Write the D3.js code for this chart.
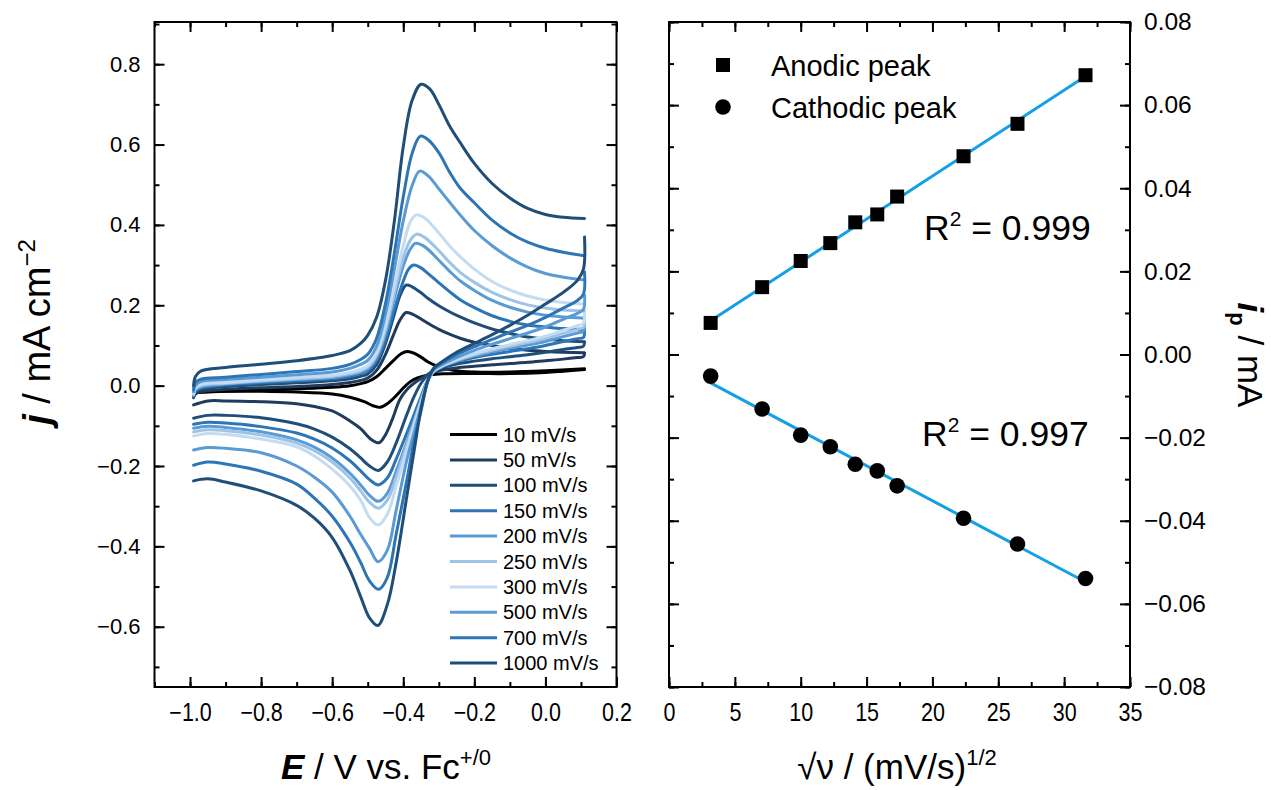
<!DOCTYPE html>
<html>
<head>
<meta charset="utf-8">
<script src="https://cdn.jsdelivr.net/npm/d3@7"></script>
<style>
  body { margin: 0; background: #fff; }
  svg { display: block; }
  text { font-family: "Liberation Sans", Arial, sans-serif; fill: #000; }
</style>
</head>
<body>
<svg id="chart" width="1271" height="790"></svg>
<script>
// ---- Cyclic voltammograms: [E (V vs Fc+/0), j (mA cm^-2)] ----
const scanRates = [10, 50, 100, 150, 200, 250, 300, 500, 700, 1000];
const scanLabels = ["10 mV/s", "50 mV/s", "100 mV/s", "150 mV/s", "200 mV/s",
                    "250 mV/s", "300 mV/s", "500 mV/s", "700 mV/s", "1000 mV/s"];
const scanColors = ["#000000", "#1f3b5e", "#1f4e79", "#2e75b6", "#5b9bd5",
                    "#9dc3e6", "#c5dcf0", "#5b9bd5", "#2e75b6", "#1f4e79"];

const fwd10 = [[-0.99,-0.018],[-0.9,-0.014],[-0.8,-0.011],[-0.7,-0.008],[-0.6,-0.004],[-0.55,0.0],[-0.52,0.005],[-0.5,0.01],[-0.475,0.022],[-0.45,0.043],[-0.425,0.065],[-0.405,0.08],[-0.388,0.085],[-0.37,0.081],[-0.35,0.071],[-0.33,0.059],[-0.3,0.047],[-0.27,0.04],[-0.24,0.036],[-0.2,0.034],[-0.1,0.034],[0.0,0.037],[0.11,0.042]];
const rev10 = [[0.11,0.04],[0.05,0.036],[0.0,0.033],[-0.1,0.03],[-0.2,0.03],[-0.3,0.029],[-0.33,0.026],[-0.36,0.019],[-0.38,0.01],[-0.4,-0.006],[-0.42,-0.025],[-0.445,-0.045],[-0.465,-0.054],[-0.485,-0.05],[-0.51,-0.04],[-0.55,-0.029],[-0.6,-0.021],[-0.7,-0.016],[-0.8,-0.014],[-0.9,-0.014],[-0.99,-0.016]];

const fwd50 = [[-0.99,-0.03],[-0.985,-0.021],[-0.97,-0.015],[-0.9,-0.009],[-0.8,-0.005],[-0.7,-0.002],[-0.6,0.003],[-0.55,0.008],[-0.52,0.013],[-0.5,0.019],[-0.475,0.038],[-0.45,0.078],[-0.425,0.132],[-0.41,0.162],[-0.392,0.182],[-0.375,0.178],[-0.35,0.166],[-0.33,0.155],[-0.3,0.14],[-0.27,0.128],[-0.24,0.118],[-0.2,0.108],[-0.15,0.1],[-0.1,0.093],[-0.05,0.088],[0.0,0.085],[0.05,0.083],[0.11,0.082]];
const rev50 = [[0.11,0.08],[0.107,0.072],[0.09,0.07],[0.05,0.066],[0.0,0.062],[-0.05,0.058],[-0.1,0.055],[-0.15,0.052],[-0.2,0.048],[-0.25,0.044],[-0.3,0.037],[-0.33,0.028],[-0.36,0.012],[-0.39,-0.01],[-0.41,-0.035],[-0.43,-0.082],[-0.45,-0.122],[-0.468,-0.142],[-0.49,-0.134],[-0.52,-0.107],[-0.55,-0.088],[-0.6,-0.063],[-0.65,-0.052],[-0.7,-0.045],[-0.8,-0.04],[-0.9,-0.038],[-0.95,-0.038],[-0.99,-0.048]];

const fwd100 = [[-0.99,-0.028],[-0.985,-0.017],[-0.97,-0.01],[-0.9,-0.002],[-0.8,0.003],[-0.7,0.007],[-0.6,0.012],[-0.55,0.017],[-0.52,0.023],[-0.5,0.029],[-0.475,0.052],[-0.45,0.105],[-0.425,0.178],[-0.41,0.222],[-0.392,0.25],[-0.375,0.246],[-0.35,0.231],[-0.33,0.217],[-0.3,0.199],[-0.27,0.184],[-0.24,0.171],[-0.2,0.156],[-0.15,0.141],[-0.1,0.13],[-0.05,0.121],[0.0,0.116],[0.05,0.112],[0.11,0.109]];
const rev100 = [[0.11,0.108],[0.107,0.098],[0.09,0.095],[0.05,0.09],[0.0,0.083],[-0.05,0.077],[-0.1,0.072],[-0.15,0.067],[-0.2,0.061],[-0.25,0.054],[-0.29,0.045],[-0.315,0.037],[-0.33,0.028],[-0.35,0.006],[-0.37,-0.028],[-0.39,-0.072],[-0.42,-0.143],[-0.445,-0.19],[-0.47,-0.211],[-0.495,-0.2],[-0.52,-0.18],[-0.55,-0.157],[-0.6,-0.128],[-0.65,-0.108],[-0.7,-0.095],[-0.8,-0.08],[-0.9,-0.074],[-0.95,-0.074],[-0.99,-0.081]];

const fwd150 = [[-0.99,-0.026],[-0.985,-0.013],[-0.97,-0.006],[-0.9,0.002],[-0.8,0.007],[-0.7,0.012],[-0.6,0.017],[-0.55,0.023],[-0.52,0.03],[-0.5,0.037],[-0.475,0.062],[-0.45,0.115],[-0.425,0.19],[-0.4,0.26],[-0.385,0.29],[-0.371,0.3],[-0.35,0.293],[-0.33,0.279],[-0.3,0.256],[-0.27,0.234],[-0.24,0.214],[-0.2,0.194],[-0.15,0.174],[-0.1,0.16],[-0.05,0.151],[0.0,0.146],[0.05,0.142],[0.11,0.14]];
const rev150 = [[0.11,0.138],[0.107,0.12],[0.09,0.117],[0.05,0.11],[0.0,0.1],[-0.05,0.092],[-0.1,0.085],[-0.15,0.078],[-0.2,0.07],[-0.25,0.059],[-0.29,0.047],[-0.315,0.035],[-0.33,0.016],[-0.35,-0.027],[-0.37,-0.073],[-0.39,-0.118],[-0.42,-0.183],[-0.445,-0.23],[-0.47,-0.247],[-0.495,-0.234],[-0.52,-0.212],[-0.55,-0.187],[-0.6,-0.155],[-0.65,-0.133],[-0.7,-0.118],[-0.8,-0.102],[-0.9,-0.093],[-0.95,-0.091],[-0.99,-0.096]];

const fwd200 = [[-0.99,-0.024],[-0.985,-0.01],[-0.97,-0.003],[-0.9,0.004],[-0.8,0.01],[-0.7,0.015],[-0.6,0.02],[-0.55,0.027],[-0.52,0.034],[-0.5,0.042],[-0.475,0.07],[-0.45,0.13],[-0.425,0.218],[-0.4,0.298],[-0.38,0.34],[-0.366,0.354],[-0.34,0.346],[-0.3,0.312],[-0.27,0.285],[-0.24,0.261],[-0.2,0.237],[-0.15,0.212],[-0.1,0.195],[-0.05,0.183],[0.0,0.175],[0.05,0.171],[0.11,0.168]];
const rev200 = [[0.11,0.155],[0.107,0.135],[0.09,0.131],[0.05,0.122],[0.0,0.11],[-0.05,0.101],[-0.1,0.093],[-0.15,0.084],[-0.2,0.074],[-0.25,0.061],[-0.29,0.048],[-0.315,0.035],[-0.33,0.014],[-0.35,-0.035],[-0.37,-0.088],[-0.39,-0.14],[-0.42,-0.213],[-0.445,-0.268],[-0.47,-0.288],[-0.495,-0.273],[-0.52,-0.247],[-0.55,-0.218],[-0.6,-0.18],[-0.65,-0.153],[-0.7,-0.135],[-0.8,-0.115],[-0.9,-0.104],[-0.95,-0.101],[-0.99,-0.106]];

const fwd250 = [[-0.99,-0.022],[-0.985,-0.008],[-0.97,0.0],[-0.9,0.006],[-0.8,0.012],[-0.7,0.017],[-0.6,0.023],[-0.55,0.03],[-0.52,0.037],[-0.5,0.046],[-0.475,0.076],[-0.45,0.14],[-0.425,0.232],[-0.4,0.318],[-0.38,0.362],[-0.363,0.377],[-0.34,0.369],[-0.3,0.336],[-0.27,0.307],[-0.24,0.282],[-0.2,0.257],[-0.15,0.232],[-0.1,0.214],[-0.05,0.201],[0.0,0.193],[0.05,0.188],[0.11,0.186]];
const rev250 = [[0.11,0.165],[0.107,0.145],[0.09,0.14],[0.05,0.13],[0.0,0.117],[-0.05,0.107],[-0.1,0.098],[-0.15,0.088],[-0.2,0.077],[-0.25,0.063],[-0.29,0.049],[-0.315,0.035],[-0.33,0.013],[-0.35,-0.038],[-0.37,-0.093],[-0.39,-0.148],[-0.42,-0.228],[-0.445,-0.285],[-0.47,-0.305],[-0.495,-0.29],[-0.52,-0.262],[-0.55,-0.23],[-0.6,-0.19],[-0.65,-0.162],[-0.7,-0.143],[-0.8,-0.123],[-0.9,-0.112],[-0.95,-0.11],[-0.99,-0.115]];

const fwd300 = [[-0.99,-0.02],[-0.985,-0.006],[-0.97,0.003],[-0.9,0.008],[-0.8,0.014],[-0.7,0.02],[-0.6,0.026],[-0.55,0.033],[-0.52,0.041],[-0.5,0.05],[-0.475,0.082],[-0.45,0.15],[-0.425,0.25],[-0.4,0.348],[-0.38,0.408],[-0.363,0.425],[-0.34,0.417],[-0.3,0.38],[-0.27,0.348],[-0.24,0.321],[-0.2,0.29],[-0.15,0.259],[-0.1,0.238],[-0.05,0.223],[0.0,0.213],[0.05,0.207],[0.11,0.203]];
const rev300 = [[0.11,0.18],[0.107,0.155],[0.09,0.149],[0.05,0.138],[0.0,0.123],[-0.05,0.112],[-0.1,0.102],[-0.15,0.092],[-0.2,0.08],[-0.25,0.065],[-0.29,0.05],[-0.315,0.036],[-0.33,0.013],[-0.35,-0.042],[-0.37,-0.1],[-0.39,-0.16],[-0.42,-0.25],[-0.445,-0.32],[-0.471,-0.347],[-0.495,-0.328],[-0.52,-0.285],[-0.55,-0.25],[-0.6,-0.208],[-0.65,-0.175],[-0.7,-0.152],[-0.8,-0.133],[-0.9,-0.121],[-0.95,-0.119],[-0.99,-0.125]];

const fwd500 = [[-0.99,-0.015],[-0.985,0.0],[-0.97,0.01],[-0.9,0.015],[-0.8,0.021],[-0.7,0.027],[-0.6,0.034],[-0.55,0.043],[-0.52,0.053],[-0.5,0.063],[-0.475,0.098],[-0.45,0.178],[-0.425,0.29],[-0.4,0.41],[-0.375,0.498],[-0.354,0.534],[-0.33,0.522],[-0.3,0.49],[-0.27,0.457],[-0.24,0.425],[-0.2,0.386],[-0.15,0.348],[-0.1,0.318],[-0.05,0.295],[0.0,0.279],[0.05,0.27],[0.11,0.263]];
const rev500 = [[0.11,0.225],[0.107,0.19],[0.09,0.18],[0.05,0.165],[0.0,0.146],[-0.05,0.131],[-0.1,0.117],[-0.15,0.103],[-0.2,0.088],[-0.25,0.07],[-0.29,0.053],[-0.315,0.039],[-0.33,0.014],[-0.35,-0.052],[-0.37,-0.118],[-0.39,-0.185],[-0.42,-0.31],[-0.445,-0.41],[-0.471,-0.438],[-0.495,-0.405],[-0.52,-0.37],[-0.55,-0.325],[-0.6,-0.265],[-0.65,-0.228],[-0.7,-0.2],[-0.8,-0.167],[-0.9,-0.156],[-0.95,-0.154],[-0.99,-0.16]];

const fwd700 = [[-0.99,-0.01],[-0.985,0.008],[-0.97,0.016],[-0.9,0.021],[-0.8,0.028],[-0.7,0.035],[-0.6,0.043],[-0.55,0.053],[-0.52,0.065],[-0.5,0.078],[-0.475,0.118],[-0.45,0.205],[-0.425,0.33],[-0.4,0.47],[-0.375,0.578],[-0.352,0.621],[-0.33,0.612],[-0.3,0.58],[-0.27,0.532],[-0.24,0.492],[-0.2,0.455],[-0.15,0.412],[-0.1,0.38],[-0.05,0.357],[0.0,0.342],[0.05,0.332],[0.11,0.323]];
const rev700 = [[0.11,0.283],[0.107,0.228],[0.09,0.212],[0.05,0.193],[0.0,0.17],[-0.05,0.15],[-0.1,0.133],[-0.15,0.115],[-0.2,0.097],[-0.25,0.077],[-0.29,0.057],[-0.315,0.041],[-0.33,0.014],[-0.35,-0.063],[-0.37,-0.14],[-0.39,-0.235],[-0.42,-0.37],[-0.445,-0.478],[-0.469,-0.507],[-0.495,-0.486],[-0.52,-0.44],[-0.55,-0.39],[-0.6,-0.325],[-0.65,-0.28],[-0.7,-0.245],[-0.8,-0.213],[-0.9,-0.195],[-0.95,-0.19],[-0.99,-0.198]];

const fwd1000 = [[-0.99,0.0],[-0.985,0.022],[-0.97,0.036],[-0.9,0.045],[-0.8,0.053],[-0.7,0.062],[-0.6,0.075],[-0.55,0.087],[-0.52,0.105],[-0.5,0.125],[-0.475,0.17],[-0.45,0.262],[-0.425,0.41],[-0.4,0.595],[-0.375,0.71],[-0.35,0.75],[-0.325,0.738],[-0.3,0.7],[-0.27,0.647],[-0.24,0.605],[-0.2,0.553],[-0.15,0.503],[-0.1,0.467],[-0.05,0.441],[0.0,0.426],[0.05,0.419],[0.11,0.416]];
const rev1000 = [[0.11,0.37],[0.107,0.29],[0.09,0.262],[0.05,0.232],[0.0,0.203],[-0.05,0.175],[-0.1,0.15],[-0.15,0.127],[-0.2,0.105],[-0.25,0.083],[-0.29,0.06],[-0.315,0.043],[-0.33,0.015],[-0.35,-0.058],[-0.37,-0.165],[-0.39,-0.275],[-0.42,-0.44],[-0.445,-0.545],[-0.472,-0.597],[-0.495,-0.578],[-0.52,-0.525],[-0.55,-0.46],[-0.6,-0.378],[-0.65,-0.33],[-0.7,-0.298],[-0.8,-0.262],[-0.9,-0.24],[-0.95,-0.232],[-0.99,-0.237]];

// ---- Peak currents vs square root of scan rate ----
const sqrtRate = [3.162, 7.071, 10.0, 12.247, 14.142, 15.811, 17.321, 22.361, 26.458, 31.623];
const anodicPeak = [0.0076, 0.0162, 0.0225, 0.0268, 0.0318, 0.0337, 0.0380, 0.0477, 0.0555, 0.0672];
const cathodicPeak = [-0.0052, -0.0131, -0.0194, -0.0222, -0.0264, -0.0280, -0.0316, -0.0394, -0.0456, -0.0539];

// Axis ticks
const cvXTicks = [-1.0, -0.8, -0.6, -0.4, -0.2, 0.0, 0.2];
const cvYTicks = [-0.6, -0.4, -0.2, 0.0, 0.2, 0.4, 0.6, 0.8];
const ipXTicks = [0, 5, 10, 15, 20, 25, 30, 35];
const ipYTicks = [-0.08, -0.06, -0.04, -0.02, 0.0, 0.02, 0.04, 0.06, 0.08];

const sweeps = [
  { fwd: fwd10, rev: rev10 }, { fwd: fwd50, rev: rev50 }, { fwd: fwd100, rev: rev100 },
  { fwd: fwd150, rev: rev150 }, { fwd: fwd200, rev: rev200 }, { fwd: fwd250, rev: rev250 },
  { fwd: fwd300, rev: rev300 }, { fwd: fwd500, rev: rev500 }, { fwd: fwd700, rev: rev700 },
  { fwd: fwd1000, rev: rev1000 }
].map((s, i) => ({ ...s, rate: scanRates[i], label: scanLabels[i], color: scanColors[i] }));

const svg = d3.select("#chart");

// ---------- Panel geometry ----------
const P1 = { left: 154.5, right: 616.5, top: 22, bottom: 687 };
const P2 = { left: 669, right: 1130, top: 22, bottom: 687 };

const xE = d3.scaleLinear().domain([-1.1, 0.2]).range([P1.left, P1.right]);
const yJ = d3.scaleLinear().domain([-0.75, 0.905]).range([P1.bottom, P1.top]);
const xR = d3.scaleLinear().domain([0, 35]).range([P2.left, P2.right]);
const yI = d3.scaleLinear().domain([-0.08, 0.08]).range([P2.bottom, P2.top]);

const MAJOR = 10, MINOR = 5;
const FONT = '"Liberation Sans", Arial, sans-serif';

function styleAxis(g, fs) {
  g.select(".domain").remove();
  g.selectAll(".tick line").attr("stroke", "#000").attr("stroke-width", 2);
  g.selectAll(".tick text").attr("font-size", fs || 22).attr("fill", "#000").attr("font-family", FONT);
}

// x tick labels are set in a tall, narrow face
function condense(g) {
  g.selectAll(".tick text").attr("transform", "scale(0.86,1)");
}

function frameAxes(P, xs, ys, xMaj, xMin, yMaj, yMin, xFmt, yFmt, ySide, yFs) {
  const g = svg.append("g");
  // bottom
  g.append("g").attr("transform", `translate(0,${P.bottom})`)
    .call(d3.axisBottom(xs).tickValues(xMin).tickSize(-MINOR).tickFormat("")).call(styleAxis);
  g.append("g").attr("transform", `translate(0,${P.bottom})`)
    .call(d3.axisBottom(xs).tickValues(xMaj).tickSize(-MAJOR).tickPadding(16).tickFormat(xFmt))
    .call(styleAxis, 25).call(condense);
  // top
  g.append("g").attr("transform", `translate(0,${P.top})`)
    .call(d3.axisTop(xs).tickValues(xMin).tickSize(-MINOR).tickFormat("")).call(styleAxis);
  g.append("g").attr("transform", `translate(0,${P.top})`)
    .call(d3.axisTop(xs).tickValues(xMaj).tickSize(-MAJOR).tickFormat("")).call(styleAxis);
  // left
  g.append("g").attr("transform", `translate(${P.left},0)`)
    .call(d3.axisLeft(ys).tickValues(yMin).tickSize(-MINOR).tickFormat("")).call(styleAxis);
  g.append("g").attr("transform", `translate(${P.left},0)`)
    .call(d3.axisLeft(ys).tickValues(yMaj).tickSize(-MAJOR).tickPadding(14)
      .tickFormat(ySide === "left" ? yFmt : "")).call(styleAxis, yFs);
  // right
  g.append("g").attr("transform", `translate(${P.right},0)`)
    .call(d3.axisRight(ys).tickValues(yMin).tickSize(-MINOR).tickFormat("")).call(styleAxis);
  g.append("g").attr("transform", `translate(${P.right},0)`)
    .call(d3.axisRight(ys).tickValues(yMaj).tickSize(-MAJOR).tickPadding(14)
      .tickFormat(ySide === "right" ? yFmt : "")).call(styleAxis, yFs);
  // frame
  g.append("rect").attr("x", P.left).attr("y", P.top)
    .attr("width", P.right - P.left).attr("height", P.bottom - P.top)
    .attr("fill", "none").attr("stroke", "#000").attr("stroke-width", 2);
  return g;
}

// ---------- Left panel: CV curves ----------
svg.append("defs").append("clipPath").attr("id", "cvClip")
  .append("rect").attr("x", P1.left).attr("y", P1.top)
  .attr("width", P1.right - P1.left).attr("height", P1.bottom - P1.top);

const cvLine = d3.line().x(d => xE(d[0])).y(d => yJ(d[1])).curve(d3.curveCatmullRom.alpha(0.5));
const cvG = svg.append("g").attr("clip-path", "url(#cvClip)");
sweeps.forEach(s => {
  [s.fwd, s.rev].forEach(seg => {
    cvG.append("path").datum(seg).attr("d", cvLine)
      .attr("fill", "none").attr("stroke", s.color).attr("stroke-width", 3)
      .attr("stroke-linejoin", "round").attr("stroke-linecap", "round");
  });
});

const range = (a, b, step) => d3.range(Math.round(a / step), Math.round(b / step) + 1).map(k => +(k * step).toFixed(4));
frameAxes(P1, xE, yJ, cvXTicks, range(-1.1, 0.2, 0.1), cvYTicks, range(-0.7, 0.9, 0.1),
  d3.format(".1f"), d3.format(".1f"), "left", 22);

// legend
const legG = svg.append("g");
sweeps.forEach((s, i) => {
  const yy = 434.5 + i * 25.4;
  legG.append("line").attr("x1", 450).attr("x2", 497).attr("y1", yy).attr("y2", yy)
    .attr("stroke", s.color).attr("stroke-width", 3);
  legG.append("text").attr("x", 503).attr("y", yy + 7).attr("font-size", 20).text(s.label);
});

// ---------- Right panel: peak currents ----------
frameAxes(P2, xR, yI, ipXTicks, range(0, 35, 2.5), ipYTicks, range(-0.08, 0.08, 0.01),
  d3.format("d"), d3.format(".2f"), "right", 24.5);

function linFit(xs, ys) {
  const mx = d3.mean(xs), my = d3.mean(ys);
  let sxy = 0, sxx = 0;
  xs.forEach((x, i) => { sxy += (x - mx) * (ys[i] - my); sxx += (x - mx) ** 2; });
  const slope = sxy / sxx;
  return { slope, intercept: my - slope * mx };
}
const fitColor = "#14a0e6";
[anodicPeak, cathodicPeak].forEach(vals => {
  const f = linFit(sqrtRate, vals);
  const x0 = d3.min(sqrtRate), x1 = d3.max(sqrtRate);
  svg.append("line")
    .attr("x1", xR(x0)).attr("y1", yI(f.intercept + f.slope * x0))
    .attr("x2", xR(x1)).attr("y2", yI(f.intercept + f.slope * x1))
    .attr("stroke", fitColor).attr("stroke-width", 3);
});

const sq = 14;
svg.append("g").selectAll("rect").data(sqrtRate).join("rect")
  .attr("x", d => xR(d) - sq / 2).attr("y", (d, i) => yI(anodicPeak[i]) - sq / 2)
  .attr("width", sq).attr("height", sq).attr("fill", "#000");
svg.append("g").selectAll("circle").data(sqrtRate).join("circle")
  .attr("cx", d => xR(d)).attr("cy", (d, i) => yI(cathodicPeak[i])).attr("r", 7.8).attr("fill", "#000");

// R² annotations
function r2Label(x, y, value) {
  const t = svg.append("text").attr("x", x).attr("y", y).attr("font-size", 35.5);
  t.append("tspan").text("R");
  t.append("tspan").attr("font-size", 21).attr("dy", -14).text("2");
  t.append("tspan").attr("dy", 14).text(" = " + value);
}
r2Label(924, 240, "0.999");
r2Label(922, 446, "0.997");

// legend (right panel)
svg.append("rect").attr("x", 716).attr("y", 58).attr("width", 14).attr("height", 14).attr("fill", "#000");
svg.append("text").attr("x", 771).attr("y", 75.5).attr("font-size", 29).text("Anodic peak");
svg.append("circle").attr("cx", 723).attr("cy", 107).attr("r", 7.8).attr("fill", "#000");
svg.append("text").attr("x", 771).attr("y", 117.5).attr("font-size", 29).text("Cathodic peak");

// ---------- Axis titles ----------
const yTitle = svg.append("text").attr("transform", "translate(50,332) rotate(-90)")
  .attr("text-anchor", "middle").attr("font-size", 38);
yTitle.append("tspan").attr("font-weight", "bold").attr("font-style", "italic").text("j");
yTitle.append("tspan").text(" / mA cm");
yTitle.append("tspan").attr("font-size", 24).attr("dy", -15).text("\u22122");

const xTitle1 = svg.append("text").attr("x", 386).attr("y", 779)
  .attr("text-anchor", "middle").attr("font-size", 35);
xTitle1.append("tspan").attr("font-weight", "bold").attr("font-style", "italic").text("E");
xTitle1.append("tspan").text(" / V vs. Fc");
xTitle1.append("tspan").attr("font-size", 22).attr("dy", -14).text("+/0");

const xTitle2 = svg.append("text").attr("x", 897).attr("y", 779)
  .attr("text-anchor", "middle").attr("font-size", 35);
xTitle2.append("tspan").text("\u221A\u03BD / (mV/s)");
xTitle2.append("tspan").attr("font-size", 22).attr("dy", -14).text("1/2");

const yTitle2 = svg.append("text").attr("transform", "translate(1238,355) rotate(90)")
  .attr("text-anchor", "middle").attr("font-size", 35);
yTitle2.append("tspan").attr("font-weight", "bold").attr("font-style", "italic").text("i");
yTitle2.append("tspan").attr("font-weight", "bold").attr("font-size", 22).attr("dy", 8).text("p");
yTitle2.append("tspan").attr("dy", -8).text(" / mA");
</script>
</body>
</html>
